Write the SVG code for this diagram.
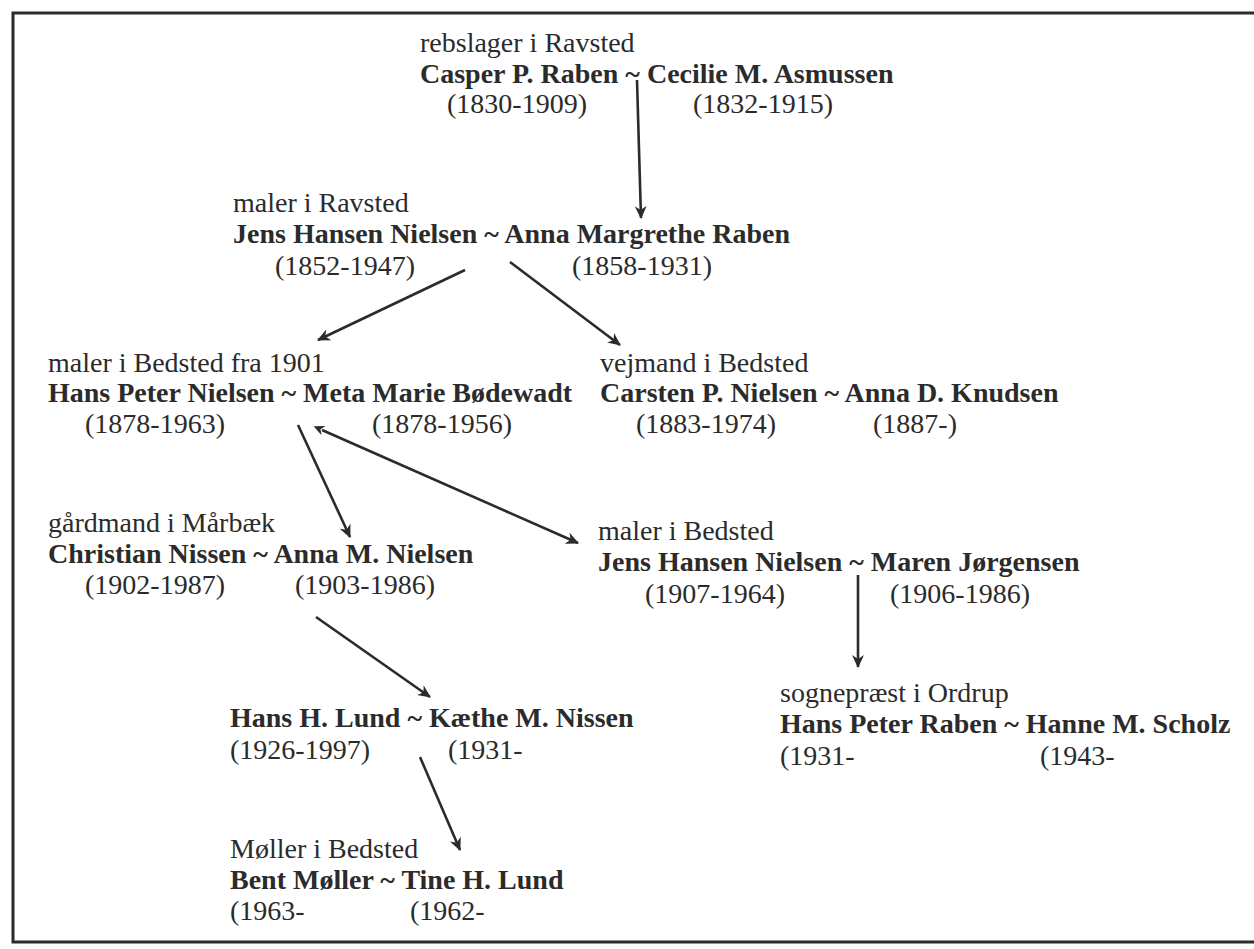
<svg xmlns="http://www.w3.org/2000/svg" width="1254" height="949" viewBox="0 0 1254 949">
<style>
text{font-family:"Liberation Serif","Times New Roman",serif;font-size:28px;fill:#2b2b2b}
.b{font-weight:bold}
.c{stroke:#2b2b2b;stroke-width:2.6;fill:none;marker-end:url(#ah)}
</style>
<defs>
<marker id="ah" viewBox="0 0 14 12" refX="12" refY="6" markerWidth="14" markerHeight="12" markerUnits="userSpaceOnUse" orient="auto">
<path d="M0,0 L13,6 L0,12 L4,6 Z" fill="#2b2b2b"/>
</marker>
<marker id="as" viewBox="0 0 14 12" refX="2" refY="6" markerWidth="12" markerHeight="10" markerUnits="userSpaceOnUse" orient="auto-start-reverse">
<path d="M0,0 L13,6 L0,12 L4,6 Z" fill="#2b2b2b"/>
</marker>
</defs>
<rect width="1254" height="949" fill="#fff"/>
<path d="M1254,13 L13,13 L13,942 L1254,942" fill="none" stroke="#2b2b2b" stroke-width="3"/>
<g id="connectors">
<line class="c" x1="637" y1="80" x2="641" y2="218"/>
<line class="c" x1="465" y1="270" x2="318" y2="340"/>
<line class="c" x1="510" y1="262" x2="620" y2="345"/>
<line class="c" x1="298" y1="425" x2="350" y2="537"/>
<line class="c" x1="322" y1="430" x2="578" y2="543" marker-start="url(#as)"/>
<line class="c" x1="316" y1="617" x2="430" y2="697"/>
<line class="c" x1="858" y1="575" x2="858" y2="667"/>
<line class="c" x1="420" y1="757" x2="460" y2="850"/>
</g>
<g id="n1">
<text x="420" y="52">rebslager i Ravsted</text>
<text class="b" x="420" y="83">Casper P. Raben ~ Cecilie M. Asmussen</text>
<text x="447" y="113">(1830-1909)</text>
<text x="693" y="113">(1832-1915)</text>
</g>
<g id="n2">
<text x="233" y="212">maler i Ravsted</text>
<text class="b" x="233" y="243">Jens Hansen Nielsen ~ Anna Margrethe Raben</text>
<text x="275" y="275">(1852-1947)</text>
<text x="572" y="275">(1858-1931)</text>
</g>
<g id="n3">
<text x="48" y="372">maler i Bedsted fra 1901</text>
<text class="b" x="48" y="402">Hans Peter Nielsen ~ Meta Marie Bødewadt</text>
<text x="85" y="433">(1878-1963)</text>
<text x="372" y="433">(1878-1956)</text>
</g>
<g id="n4">
<text x="600" y="372">vejmand i Bedsted</text>
<text class="b" x="600" y="402">Carsten P. Nielsen ~ Anna D. Knudsen</text>
<text x="636" y="433">(1883-1974)</text>
<text x="873" y="433">(1887-)</text>
</g>
<g id="n5">
<text x="48" y="532">gårdmand i Mårbæk</text>
<text class="b" x="48" y="563">Christian Nissen ~ Anna M. Nielsen</text>
<text x="85" y="594">(1902-1987)</text>
<text x="295" y="594">(1903-1986)</text>
</g>
<g id="n6">
<text x="598" y="540">maler i Bedsted</text>
<text class="b" x="598" y="571">Jens Hansen Nielsen ~ Maren Jørgensen</text>
<text x="645" y="603">(1907-1964)</text>
<text x="890" y="603">(1906-1986)</text>
</g>
<g id="n7">
<text x="780" y="702">sognepræst i Ordrup</text>
<text class="b" x="780" y="733">Hans Peter Raben ~ Hanne M. Scholz</text>
<text x="780" y="765">(1931-</text>
<text x="1040" y="765">(1943-</text>
</g>
<g id="n8">
<text class="b" x="230" y="727">Hans H. Lund ~ Kæthe M. Nissen</text>
<text x="230" y="759">(1926-1997)</text>
<text x="448" y="759">(1931-</text>
</g>
<g id="n9">
<text x="230" y="858">Møller i Bedsted</text>
<text class="b" x="230" y="889">Bent Møller ~ Tine H. Lund</text>
<text x="230" y="920">(1963-</text>
<text x="410" y="920">(1962-</text>
</g>
</svg>
